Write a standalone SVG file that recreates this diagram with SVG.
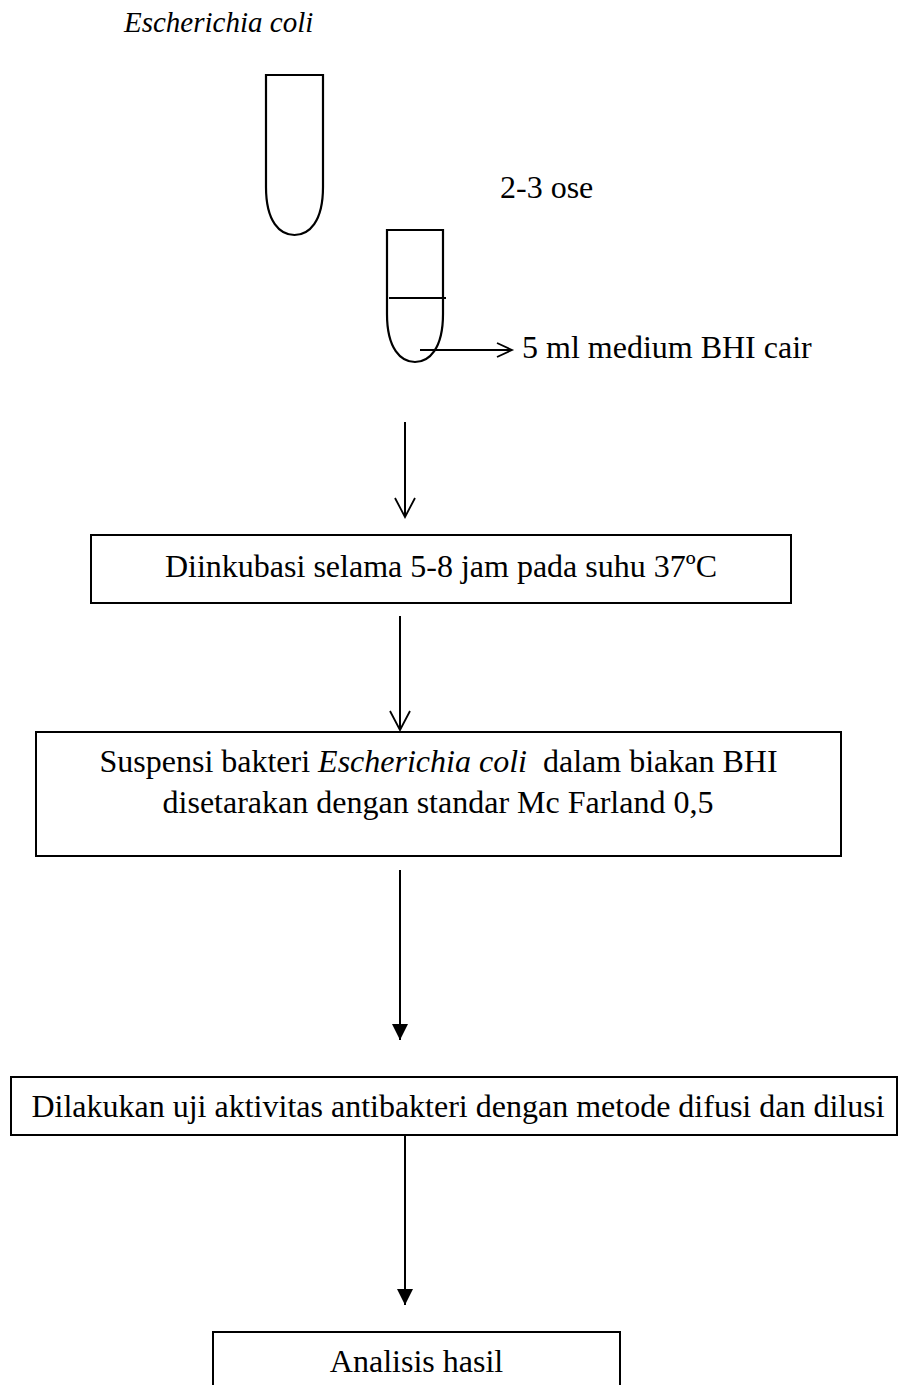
<svg xmlns="http://www.w3.org/2000/svg" width="898" height="1385" viewBox="0 0 898 1385">
<style>
text{font-family:"Liberation Serif","Times New Roman",serif;font-size:32px;fill:#000;white-space:pre}
.it{font-style:italic}
.title{font-size:29px}
.box{fill:#fff;stroke:#000;stroke-width:2}
.tube{fill:none;stroke:#000;stroke-width:2.2}
.ln{stroke:#000;stroke-width:2;fill:none}
.open{stroke:#000;stroke-width:1.8;fill:none}
</style>
<defs>
<marker id="filled" markerUnits="userSpaceOnUse" markerWidth="16" markerHeight="16" refX="16" refY="8" orient="auto" viewBox="0 0 16 16">
<path d="M0,0 L16,8 L0,16 Z" fill="#000"/>
</marker>
</defs>
<g id="title"><text class="it title" x="124" y="32">Escherichia coli</text></g>
<g id="tube1"><path class="tube" d="M266,75 L266,187 C266,222 280,235 294.5,235 C309,235 323,222 323,187 L323,75 Z"/></g>
<g id="label-ose"><text x="500" y="198">2-3 ose</text></g>
<g id="tube2">
<path class="tube" d="M387,230 L387,314 C387,349 401,362 415,362 C429,362 443,349 443,314 L443,230 Z"/>
<line class="ln" x1="389" y1="298" x2="446" y2="298"/>
</g>
<g id="label-bhi"><text x="522" y="358">5 ml medium BHI cair</text></g>
<g id="box1"><rect class="box" x="91" y="535" width="700" height="68"/><text x="441" y="577" text-anchor="middle">Diinkubasi selama 5-8 jam pada suhu 37ºC</text></g>
<g id="box2"><rect class="box" x="36" y="732" width="805" height="124"/>
<text x="438.5" y="772" text-anchor="middle">Suspensi bakteri <tspan class="it">Escherichia coli</tspan>  dalam biakan BHI</text>
<text x="438" y="813" text-anchor="middle">disetarakan dengan standar Mc Farland 0,5</text></g>
<g id="box3"><rect class="box" x="11" y="1077" width="886" height="58"/><text x="458" y="1117" text-anchor="middle">Dilakukan uji aktivitas antibakteri dengan metode difusi dan dilusi</text></g>
<g id="box4"><rect class="box" x="213" y="1332" width="407" height="70"/><text x="416.5" y="1372" text-anchor="middle">Analisis hasil</text></g>
<g id="connectors">
<line class="ln" x1="420" y1="350" x2="511" y2="350"/>
<path class="open" d="M497,343 L512,350 L497,357"/>
<line class="ln" x1="405" y1="422" x2="405" y2="516"/>
<path class="open" d="M395,498 L405,517 L415,498"/>
<line class="ln" x1="400" y1="616" x2="400" y2="729"/>
<path class="open" d="M390,711 L400,730 L410,711"/>
<line class="ln" x1="400" y1="870" x2="400" y2="1040" marker-end="url(#filled)"/>
<line class="ln" x1="405" y1="1136" x2="405" y2="1305" marker-end="url(#filled)"/>
</g>
</svg>
